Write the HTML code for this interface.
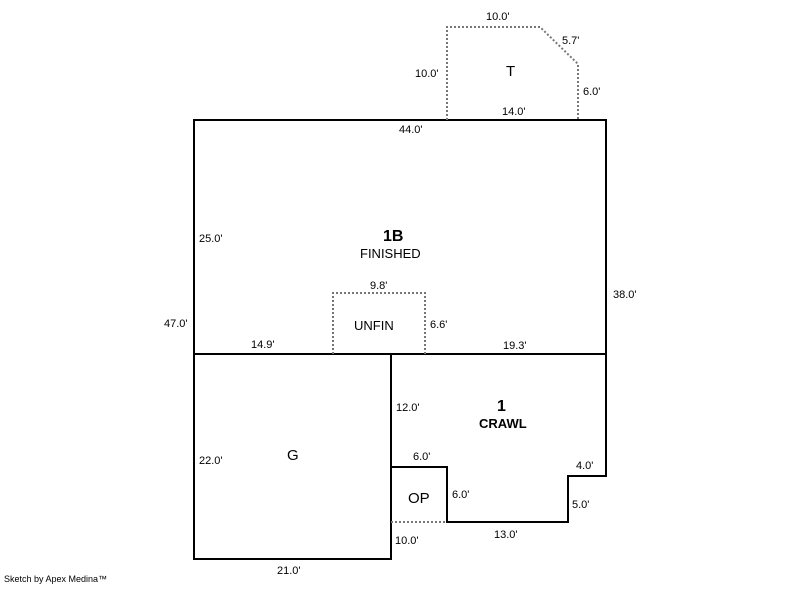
<!DOCTYPE html>
<html><head><style>
body{margin:0;background:#fff;}
svg text{font-family:"Liberation Sans",sans-serif;font-size:11px;fill:#000;}
.b{font-size:16px;font-weight:bold}
.m{font-size:13px}
</style></head><body>
<svg width="800" height="587" viewBox="0 0 800 587" xmlns="http://www.w3.org/2000/svg">
<g fill="none" stroke="#000" stroke-width="2">
<rect x="194" y="120" width="412" height="234"/>
<rect x="194" y="354" width="197" height="205"/>
<polyline points="391,354 391,467 447,467 447,522 568,522 568,476 606,476 606,354"/>
</g>
<g fill="none" stroke="#777" stroke-width="2" stroke-dasharray="2,2">
<polyline points="447,120 447,27 540,27 578,64 578,120"/>
<polyline points="333,354 333,293 425,293 425,354"/>
<line x1="391" y1="522" x2="447" y2="522"/>
</g>
<text x="486" y="20">10.0'</text>
<text x="562" y="44">5.7'</text>
<text x="415" y="77">10.0'</text>
<text x="583" y="95">6.0'</text>
<text x="502" y="115">14.0'</text>
<text class="m" x="506" y="76" style="font-size:15px">T</text>
<text x="399" y="133">44.0'</text>
<text x="199" y="242">25.0'</text>
<text class="b" x="383" y="241">1B</text>
<text class="m" x="360" y="258">FINISHED</text>
<text x="613" y="298">38.0'</text>
<text x="370" y="289">9.8'</text>
<text class="m" x="354" y="330">UNFIN</text>
<text x="430" y="328">6.6'</text>
<text x="164" y="327">47.0'</text>
<text x="251" y="348">14.9'</text>
<text x="503" y="349">19.3'</text>
<text x="396" y="411">12.0'</text>
<text class="b" x="497" y="411">1</text>
<text class="m" x="479" y="428" style="font-weight:bold">CRAWL</text>
<text x="199" y="464">22.0'</text>
<text class="m" x="287" y="460" style="font-size:15px">G</text>
<text x="413" y="460">6.0'</text>
<text x="576" y="469">4.0'</text>
<text x="452" y="498">6.0'</text>
<text class="m" x="408" y="503" style="font-size:15px">OP</text>
<text x="572" y="508">5.0'</text>
<text x="494" y="538">13.0'</text>
<text x="395" y="544">10.0'</text>
<text x="277" y="574">21.0'</text>
<text x="4" y="582" style="font-size:9px">Sketch by Apex Medina™</text>
</svg>
</body></html>
